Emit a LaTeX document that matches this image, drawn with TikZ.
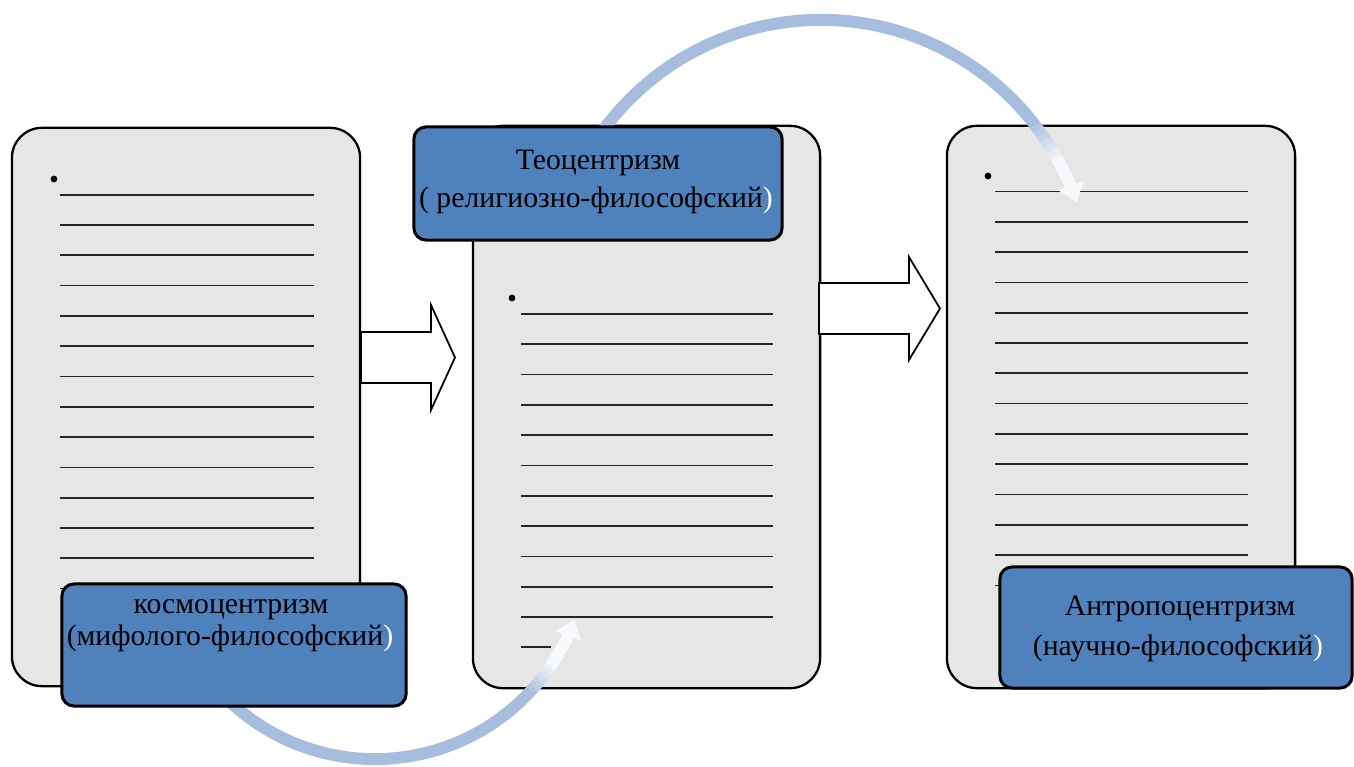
\documentclass[tikz,border=0pt]{standalone}
\usepackage{fontspec}
\setmainfont{Liberation Serif}
\usetikzlibrary{arrows.meta}
\definecolor{boxblue}{HTML}{4F81BD}
\definecolor{bandblue}{HTML}{A7BDDE}
\definecolor{panelgray}{HTML}{E6E6E6}
\definecolor{tipwhite}{HTML}{F7F9FC}
\begin{document}
\begin{tikzpicture}[x=0.01cm,y=0.01cm,
  panel/.style={draw=black, line width=0.65pt, fill=panelgray, rounded corners=0.3cm, inner sep=0pt, outer sep=0pt},
  labelbox/.style={draw=black, line width=0.85pt, fill=boxblue, rounded corners=0.12cm, inner sep=0pt, outer sep=0pt},
  ruleline/.style={draw=black!85, line width=0.5pt},
  blockarrow/.style={draw=black, line width=0.5pt, fill=white, line join=miter},
  band/.style={line width=3.4pt, draw=bandblue},
  caption/.style={anchor=base, inner sep=0pt, font=\fontsize{8.45pt}{10pt}\selectfont},
  ]
\useasboundingbox (0,0) rectangle (1354,-767);
\fill[white] (0,0) rectangle (1354,-767);

% panels
\node[panel, minimum width=3.48cm, minimum height=5.58cm] (L) at (186,-407) {};
\node[panel, minimum width=3.47cm, minimum height=5.62cm] (M) at (646.5,-407) {};
\node[panel, minimum width=3.48cm, minimum height=5.62cm] (R) at (1121,-407) {};

% ruled lines and bullets
\fill (54,-179) circle[radius=0.034cm];
\foreach \k in {0,...,13}
  \draw[ruleline] (60,{-194.7-30.3*\k}) -- (314,{-194.7-30.3*\k});
\fill (512,-298) circle[radius=0.034cm];
\foreach \k in {0,...,10}
  \draw[ruleline] (521,{-314-30.3*\k}) -- (773,{-314-30.3*\k});
\draw[ruleline] (521,-647) -- (551,-647);
\fill (988,-176) circle[radius=0.034cm];
\foreach \k in {0,...,13}
  \draw[ruleline] (995,{-191.5-30.3*\k}) -- (1248,{-191.5-30.3*\k});

% block arrows
\draw[blockarrow] (361,-332) -- (431,-332) -- (431,-305) -- (455,-357.5) -- (431,-410) -- (431,-383) -- (361,-383) -- cycle;
\draw[blockarrow] (819,-283) -- (909,-283) -- (909,-257) -- (940,-308.5) -- (909,-360) -- (909,-334) -- (819,-334) -- cycle;

% top curved arrow
\coordinate (TC) at (821,-290);
\draw[band] (TC) ++(150:2.70cm) arc[start angle=150, end angle=39, radius=2.70cm];
\foreach \i in {0,...,7}{
  \pgfmathsetmacro\a{39-\i*1.3}
  \pgfmathsetmacro\b{\a-1.6}
  \pgfmathtruncatemacro\c{100-\i*13}
  \draw[line width=3.4pt, draw=bandblue!\c!tipwhite] (TC) ++(\a:2.70cm) arc[start angle=\a, end angle=\b, radius=2.70cm];
}
\draw[line width=3.4pt, draw=tipwhite, -{Triangle[width=7.5pt,length=5pt]}] (TC) ++(29:2.70cm) arc[start angle=29, end angle=19, radius=2.70cm];

% bottom curved arrow
\coordinate (BC) at (375,-547);
\draw[band] (BC) ++(215:2.12cm) arc[start angle=215, end angle=316, radius=2.12cm];
\foreach \i in {0,...,7}{
  \pgfmathsetmacro\a{316+\i*1.3}
  \pgfmathsetmacro\b{\a+1.6}
  \pgfmathtruncatemacro\c{100-\i*13}
  \draw[line width=3.4pt, draw=bandblue!\c!tipwhite] (BC) ++(\a:2.12cm) arc[start angle=\a, end angle=\b, radius=2.12cm];
}
\draw[line width=3.4pt, draw=tipwhite, -{Triangle[width=7.5pt,length=5pt]}] (BC) ++(326:2.12cm) arc[start angle=326, end angle=340, radius=2.12cm];

% label boxes
\node[labelbox, minimum width=3.44cm, minimum height=1.22cm] (LB) at (234,-645) {};
\node[labelbox, minimum width=3.68cm, minimum height=1.13cm] (MB) at (598,-183.5) {};
\node[labelbox, minimum width=3.52cm, minimum height=1.21cm] (RB) at (1176,-627.5) {};

% captions
\node[caption] (LT1) at (231,-613) {космоцентризм};
\node[caption] (LT2) at (230,-645) {(мифолого-философский{\color{white})}};
\node[caption] (MT1) at (598,-170) {Теоцентризм};
\node[caption] (MT2) at (596,-208) {( религиозно-философский{\color{white})}};
\node[caption] (RT1) at (1180,-615) {Антропоцентризм};
\node[caption] (RT2) at (1178,-655) {(научно-философский{\color{white})}};
\end{tikzpicture}
\end{document}
